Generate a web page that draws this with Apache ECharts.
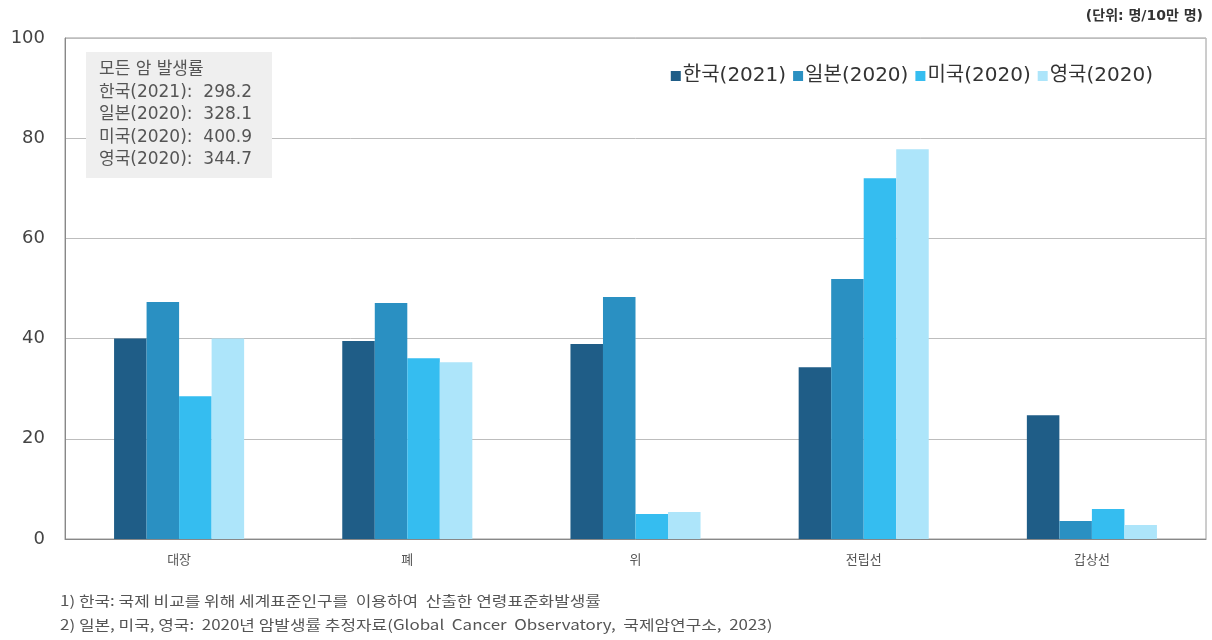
<!DOCTYPE html>
<html><head><meta charset="utf-8">
<script src="https://cdn.jsdelivr.net/npm/echarts@6/dist/echarts.min.js"></script>
<style>html,body{margin:0;padding:0;background:#fff}#c{width:1212px;height:640px}</style>
</head><body><div id="c"></div>
<script>
const categories = ['대장', '폐', '위', '전립선', '갑상선'];
const seriesNames = ['한국(2021)', '일본(2020)', '미국(2020)', '영국(2020)'];
const korea = [40.0, 39.5, 38.9, 34.3, 24.7];
const japan = [47.3, 47.1, 48.3, 51.9, 3.6];
const usa = [28.5, 36.1, 5.0, 72.0, 6.0];
const uk = [40.0, 35.3, 5.4, 77.8, 2.8];
const colors = ['#1f5d87', '#2a90c2', '#35bdf0', '#ade5fa'];
const boxLines = ['모든 암 발생률', '한국(2021):  298.2', '일본(2020):  328.1', '미국(2020):  400.9', '영국(2020):  344.7'];
const notes = ['1) 한국: 국제 비교를 위해 세계표준인구를  이용하여  산출한 연령표준화발생률',
  '2) 일본, 미국, 영국:  2020년 암발생률 추정자료(Global  Cancer  Observatory,  국제암연구소,  2023)'];
const unitLabel = '(단위: 명/10만 명)';
const FONT = '"DejaVu Sans", "Noto Sans CJK KR", sans-serif';
const NOTEFONT = '"Noto Sans CJK KR", sans-serif';

const chart = echarts.init(document.getElementById('c'));
const values = [korea, japan, usa, uk];
chart.setOption({
  animation: false,
  textStyle: { fontFamily: FONT },
  grid: { left: 65, right: 6, top: 38, bottom: 101, show: true, borderColor: '#9a9a9a', borderWidth: 1 },
  title: { text: unitLabel, right: 4, top: 4, textStyle: { fontSize: 14, fontWeight: 'bold', color: '#333', fontFamily: FONT } },
  legend: {
    data: seriesNames, right: 54, top: 61, itemWidth: 10, itemHeight: 10, itemGap: 7,
    icon: 'rect', textStyle: { fontSize: 20, color: '#333', fontFamily: FONT, padding: [0, 0, 0, -3] }
  },
  xAxis: {
    type: 'category', data: categories,
    axisLine: { lineStyle: { color: '#888' } }, axisTick: { show: false },
    axisLabel: { fontSize: 13, color: '#555', margin: 14, fontFamily: NOTEFONT }
  },
  yAxis: {
    type: 'value', min: 0, max: 100, interval: 20,
    axisLine: { show: true, lineStyle: { color: '#888' } },
    splitLine: { lineStyle: { color: '#bdbdbd' } },
    axisLabel: { fontSize: 18, color: '#444', margin: 20 }
  },
  series: seriesNames.map((n, i) => ({
    name: n, type: 'bar', data: values[i], barGap: '0%', barCategoryGap: '43%',
    itemStyle: { color: colors[i] }
  })),
  graphic: [
    { type: 'rect', left: 86, top: 52, shape: { width: 186, height: 126 }, style: { fill: '#efefef' }, z: 10 },
    ...boxLines.map((t, i) => ({
      type: 'text', left: 99, top: 61 + i * 22.6, z: 11,
      style: { text: t, fontSize: 17, fill: '#555', fontFamily: FONT }
    })),
    ...notes.map((t, i) => ({
      type: 'text', left: 60, top: 594 + i * 24, z: 11, scaleX: 1.21,
      style: { text: t, fontSize: 14, fill: '#555', fontFamily: NOTEFONT }
    }))
  ]
});
</script></body></html>
